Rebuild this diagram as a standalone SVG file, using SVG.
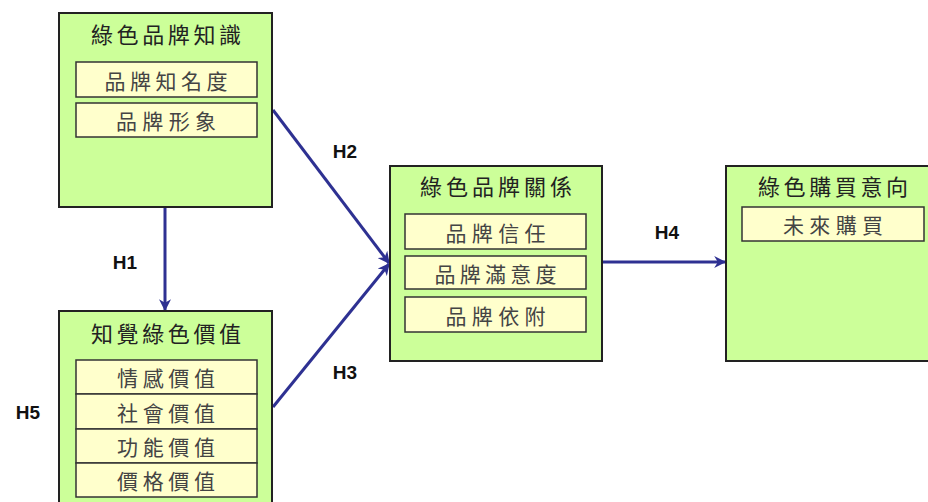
<svg xmlns="http://www.w3.org/2000/svg" width="928" height="502" viewBox="0 0 928 502">
<defs>
<marker id="ah" viewBox="0 0 10 10" refX="9" refY="5" markerWidth="4" markerHeight="4" orient="auto" markerUnits="strokeWidth">
<path d="M0,0 L10,5 L0,10 L3,5 z" fill="#2e3192"/>
</marker>
<style>
.box{fill:#ccff99;stroke:#222;stroke-width:2}
.sub{fill:#ffffcc;stroke:#333;stroke-width:1.5}
.t{font-family:"Noto Sans CJK TC","Noto Sans CJK SC",sans-serif;font-size:22px;fill:#222;text-anchor:middle;dominant-baseline:central}
.s{font-family:"Noto Sans CJK TC","Noto Sans CJK SC",sans-serif;font-size:21px;fill:#444;text-anchor:middle;dominant-baseline:central}
.h{font-family:"Liberation Sans",Arial,sans-serif;font-size:19px;font-weight:bold;fill:#111;text-anchor:middle;dominant-baseline:central}
.c{stroke:#2e3192;stroke-width:3;fill:none;marker-end:url(#ah)}
</style>
</defs>
<rect width="928" height="502" fill="#fff"/>
<g id="connectors">
<line class="c" x1="165" y1="208" x2="165" y2="310"/>
<line class="c" x1="273" y1="110" x2="389" y2="263"/>
<line class="c" x1="273" y1="407" x2="389" y2="264"/>
<line class="c" x1="603" y1="262" x2="725" y2="262"/>
<text class="h" x="125" y="262">H1</text>
<text class="h" x="345" y="151">H2</text>
<text class="h" x="345" y="372">H3</text>
<text class="h" x="667" y="232">H4</text>
<text class="h" x="28" y="412">H5</text>
</g>
<g id="node-knowledge">
<rect class="box" x="59" y="13" width="213" height="194"/>
<text class="t" x="166" y="33" textLength="150" lengthAdjust="spacing">綠色品牌知識</text>
<rect class="sub" x="76" y="62" width="181" height="35"/>
<text class="s" x="166" y="80" textLength="123" lengthAdjust="spacing">品牌知名度</text>
<rect class="sub" x="76" y="103" width="181" height="34"/>
<text class="s" x="166" y="120" textLength="100" lengthAdjust="spacing">品牌形象</text>
</g>
<g id="node-value">
<rect class="box" x="59" y="311" width="213" height="200"/>
<text class="t" x="166" y="332" textLength="150" lengthAdjust="spacing">知覺綠色價值</text>
<rect class="sub" x="76" y="360" width="181" height="34"/>
<text class="s" x="166" y="377" textLength="98" lengthAdjust="spacing">情感價值</text>
<rect class="sub" x="76" y="394" width="181" height="35"/>
<text class="s" x="166" y="411.5" textLength="98" lengthAdjust="spacing">社會價值</text>
<rect class="sub" x="76" y="429" width="181" height="34"/>
<text class="s" x="166" y="446" textLength="98" lengthAdjust="spacing">功能價值</text>
<rect class="sub" x="76" y="463" width="181" height="34"/>
<text class="s" x="166" y="480" textLength="98" lengthAdjust="spacing">價格價值</text>
</g>
<g id="node-relationship">
<rect class="box" x="390" y="166" width="212" height="195"/>
<text class="t" x="496" y="185" textLength="152" lengthAdjust="spacing">綠色品牌關係</text>
<rect class="sub" x="405" y="214" width="181" height="35"/>
<text class="s" x="495.5" y="231.5" textLength="100" lengthAdjust="spacing">品牌信任</text>
<rect class="sub" x="405" y="256" width="181" height="33"/>
<text class="s" x="495.5" y="272.5" textLength="122" lengthAdjust="spacing">品牌滿意度</text>
<rect class="sub" x="405" y="297" width="181" height="35"/>
<text class="s" x="495.5" y="314.5" textLength="100" lengthAdjust="spacing">品牌依附</text>
</g>
<g id="node-intention">
<rect class="box" x="726" y="166" width="210" height="195"/>
<text class="t" x="833" y="185" textLength="150" lengthAdjust="spacing">綠色購買意向</text>
<rect class="sub" x="742" y="207" width="182" height="34"/>
<text class="s" x="833" y="224" textLength="100" lengthAdjust="spacing">未來購買</text>
</g>
</svg>
